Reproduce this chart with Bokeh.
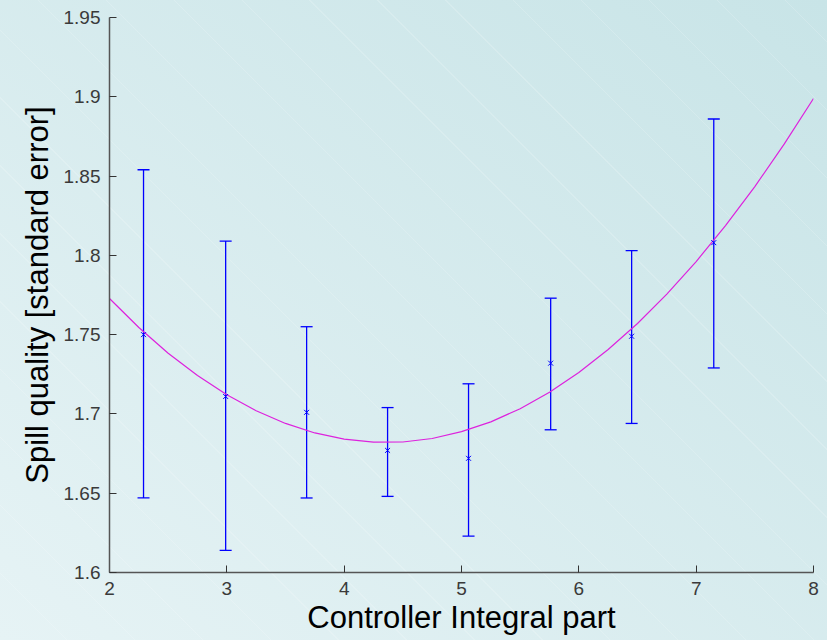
from bokeh.plotting import figure
from bokeh.models import ColumnDataSource, Whisker, TeeHead, Range1d, FixedTicker
from bokeh.embed import file_html
from bokeh.resources import INLINE

# ---- data ----
ctrl_x = [2.29, 2.99, 3.68, 4.37, 5.06, 5.76, 6.45, 7.15]
quality_mean = [1.750, 1.711, 1.701, 1.677, 1.672, 1.732, 1.749, 1.808]
quality_upper = [1.854, 1.809, 1.755, 1.704, 1.719, 1.773, 1.803, 1.886]
quality_lower = [1.647, 1.614, 1.647, 1.648, 1.623, 1.690, 1.694, 1.729]

fit_x = [2.0, 2.25, 2.5, 2.75, 3.0, 3.25, 3.5, 3.75, 4.0, 4.25, 4.5, 4.75, 5.0,
         5.25, 5.5, 5.75, 6.0, 6.25, 6.5, 6.75, 7.0, 7.25, 7.5, 7.75, 8.0]
fit_y = [1.7728, 1.7545, 1.7383, 1.7242, 1.7121, 1.7020, 1.6940, 1.6880, 1.6841,
         1.6822, 1.6823, 1.6845, 1.6888, 1.6950, 1.7033, 1.7137, 1.7261, 1.7406,
         1.7570, 1.7756, 1.7961, 1.8188, 1.8434, 1.8701, 1.8989]

x_ticks = [2, 3, 4, 5, 6, 7, 8]
y_ticks = [1.6, 1.65, 1.7, 1.75, 1.8, 1.85, 1.9, 1.95]
y_tick_labels = ["1.6", "1.65", "1.7", "1.75", "1.8", "1.85", "1.9", "1.95"]

# ---- figure ----
p = figure(width=827, height=640, output_backend="svg", toolbar_location=None,
           x_range=Range1d(2, 8), y_range=Range1d(1.6, 1.95))
p.min_border_left = 109
p.min_border_right = 14
p.min_border_top = 17
p.min_border_bottom = 68
p.background_fill_color = None
p.border_fill_color = None
p.outline_line_color = None
p.grid.visible = False
p.styles = {
    "background": "repeating-linear-gradient(45deg, rgba(255,255,255,0) 0px, "
                  "rgba(255,255,255,0) 47px, rgba(255,255,255,0.16) 47px, "
                  "rgba(255,255,255,0.16) 48px), "
                  "linear-gradient(to top right, #e6f3f5, #c8e4e7)"
}

src = ColumnDataSource(dict(x=ctrl_x, y=quality_mean,
                            upper=quality_upper, lower=quality_lower))

p.line(fit_x, fit_y, line_color="#dd22dd", line_width=1.2)

wh = Whisker(base="x", upper="upper", lower="lower", source=src,
             line_color="#0000ff", line_width=1.3,
             upper_head=TeeHead(size=12, line_color="#0000ff", line_width=1.3),
             lower_head=TeeHead(size=12, line_color="#0000ff", line_width=1.3))
p.add_layout(wh)
p.scatter("x", "y", source=src, marker="x", size=7, line_color="#0000ff",
          line_width=1)

for ax in (p.xaxis[0], p.yaxis[0]):
    ax.axis_line_color = "#555555"
    ax.axis_line_width = 1.5
    ax.major_tick_line_color = "#333333"
    ax.major_tick_in = 7
    ax.major_tick_out = 0
    ax.minor_tick_line_color = None
    ax.major_label_text_font = "Liberation Sans"
    ax.major_label_text_font_size = "19px"
    ax.major_label_text_color = "#3a3a3a"
    ax.axis_label_text_font = "Liberation Sans"
    ax.axis_label_text_font_size = "31px"
    ax.axis_label_text_font_style = "normal"
    ax.axis_label_text_color = "#000000"

p.xaxis.ticker = FixedTicker(ticks=x_ticks)
p.yaxis.ticker = FixedTicker(ticks=y_ticks)
p.yaxis.major_label_overrides = {t: l for t, l in zip(y_ticks, y_tick_labels)}
p.xaxis.major_label_standoff = 9
p.yaxis.major_label_standoff = 9
p.xaxis.axis_label = "Controller Integral part"
p.yaxis.axis_label = "Spill quality [standard error]"
p.xaxis.axis_label_standoff = 2
p.yaxis.axis_label_standoff = 6

open("out.html", "w").write(file_html(p, INLINE))
